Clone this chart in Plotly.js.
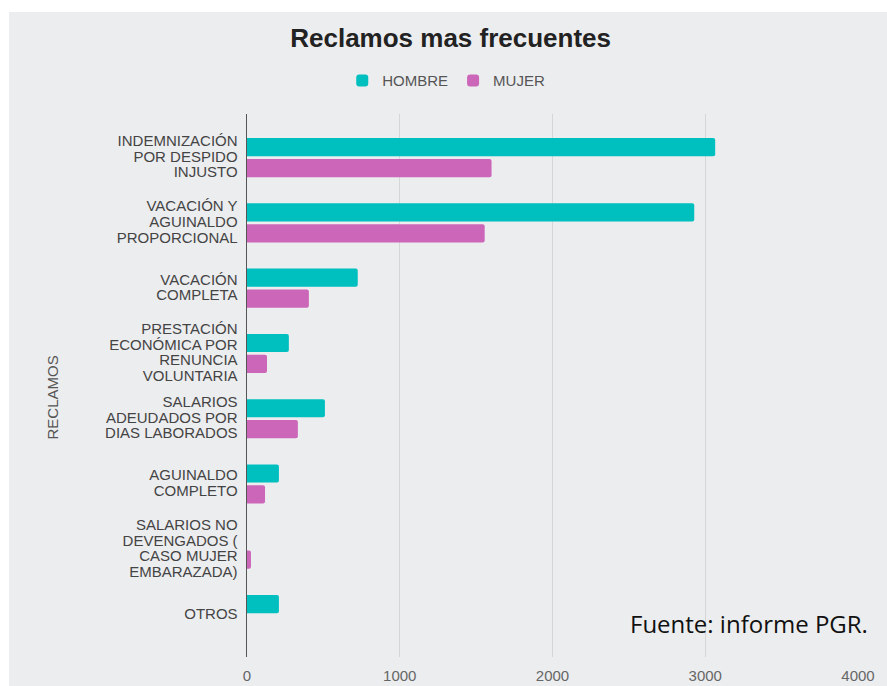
<!DOCTYPE html>
<html>
<head>
<meta charset="utf-8">
<script src="https://cdn.plot.ly/plotly-3.0.1.min.js"></script>
<style>
  html, body { margin: 0; padding: 0; background: #ffffff; width: 887px; height: 686px; overflow: hidden; }
  #chart { position: absolute; left: 9px; top: 12px; width: 878px; height: 674px; }
</style>
</head>
<body>
<div id="chart"></div>
<script>
// Categories (top to bottom), each as lines of its label
const categories = [
  ['INDEMNIZACIÓN', 'POR DESPIDO', 'INJUSTO'],
  ['VACACIÓN Y', 'AGUINALDO', 'PROPORCIONAL'],
  ['VACACIÓN', 'COMPLETA'],
  ['PRESTACIÓN', 'ECONÓMICA POR', 'RENUNCIA', 'VOLUNTARIA'],
  ['SALARIOS', 'ADEUDADOS POR', 'DIAS LABORADOS'],
  ['AGUINALDO', 'COMPLETO'],
  ['SALARIOS NO', 'DEVENGADOS (', 'CASO MUJER', 'EMBARAZADA)'],
  ['OTROS']
];
const hombre = [3065, 2928, 725, 274, 510, 209, 0, 209];
const mujer  = [1601, 1556, 405, 131, 333, 118, 26, 0];
const seriesNames = ['HOMBRE', 'MUJER'];
const xTicks = [0, 1000, 2000, 3000, 4000];

const catKeys = categories.map(c => c.join(' '));
const tickText = categories.map(c => c.map(l => '<span style="font-size:15px">' + l + '</span>').join('<br>'));

const traces = [
  {
    type: 'bar', orientation: 'h', name: seriesNames[0],
    y: catKeys, x: hombre,
    marker: { color: '#00BFBF', cornerradius: 2 },
    hoverinfo: 'none'
  },
  {
    type: 'bar', orientation: 'h', name: seriesNames[1],
    y: catKeys, x: mujer,
    marker: { color: '#CC66B8', cornerradius: 2 },
    hoverinfo: 'none'
  }
];

const layout = {
  width: 878, height: 674,
  paper_bgcolor: '#ECEDEF', plot_bgcolor: '#ECEDEF',
  margin: { l: 238, r: 29, t: 102, b: 29, autoexpand: false },
  font: { family: 'Arial, "Liberation Sans", sans-serif', color: '#444' },
  title: {
    text: '<b>Reclamos mas frecuentes</b>',
    font: { family: 'Arial, "Liberation Sans", sans-serif', size: 26, color: '#222' },
    xref: 'container', x: 0.503, xanchor: 'center',
    yref: 'container', y: 0.962, yanchor: 'middle'
  },
  showlegend: true,
  legend: {
    orientation: 'h',
    xref: 'container', x: 0.498, xanchor: 'center',
    yref: 'container', y: 0.898, yanchor: 'middle',
    font: { size: 15, color: '#555' },
    bgcolor: 'rgba(0,0,0,0)'
  },
  barmode: 'group',
  bargap: 0.36,
  bargroupgap: 0.13,
  xaxis: {
    range: [0, 4000],
    tickvals: xTicks,
    ticktext: xTicks.map(String),
    showgrid: true, gridcolor: '#D6D6D8', gridwidth: 1,
    zeroline: false, showline: false, ticks: '',
    ticklabelstandoff: 8,
    tickfont: { size: 15, color: '#666' },
    fixedrange: true
  },
  yaxis: {
    type: 'category',
    range: [7.651, -0.668],
    tickmode: 'array',
    tickvals: catKeys,
    ticktext: tickText,
    tickfont: { size: 12, color: '#444' },
    showgrid: false, zeroline: false,
    showline: true, linecolor: '#555', linewidth: 1,
    ticks: '', ticklabelstandoff: 6,
    fixedrange: true
  },
  annotations: [
    {
      text: 'RECLAMOS', textangle: -90,
      xref: 'paper', yref: 'paper', x: -0.319, y: 0.478,
      xanchor: 'center', yanchor: 'middle', showarrow: false,
      font: { size: 15, color: '#555' }
    },
    {
      text: 'Fuente: informe PGR.',
      xref: 'paper', yref: 'paper', x: 1.02, y: 0.0626,
      xanchor: 'right', yanchor: 'middle', showarrow: false,
      font: { family: '"Open Sans", sans-serif', size: 24, color: '#111' }
    }
  ]
};

Plotly.newPlot('chart', traces, layout, { displayModeBar: false, staticPlot: true });
</script>
</body>
</html>
